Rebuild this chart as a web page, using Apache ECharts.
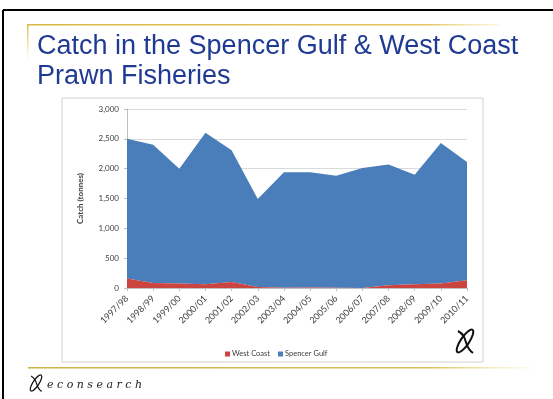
<!DOCTYPE html>
<html>
<head>
<meta charset="utf-8">
<script src="https://cdn.jsdelivr.net/npm/echarts@6/dist/echarts.min.js"></script>
<style>
html,body{margin:0;padding:0;background:#fff;}
#c{width:553px;height:399px;}
</style>
</head>
<body>
<div id="c"></div>
<script>
var categories = ['1997/98','1998/99','1999/00','2000/01','2001/02','2002/03','2003/04','2004/05','2005/06','2006/07','2007/08','2008/09','2009/10','2010/11'];
var westCoast = [158, 84, 74, 62, 100, 15, 5, 8, 4, 2, 45, 62, 74, 130];
var spencerGulf = [2342, 2316, 1926, 2538, 2210, 1475, 1935, 1930, 1876, 2008, 2025, 1838, 2356, 1980];
var yTicks = [0, 500, 1000, 1500, 2000, 2500, 3000];

var chart = echarts.init(document.getElementById('c'), null, {renderer: 'canvas'});
var fontChart = 'Lato, "Open Sans", sans-serif';

function logoShape(cx, cy, s, color, lw) {
  return {
    type: 'group', x: cx, y: cy, scaleX: s, scaleY: s, z: 10,
    children: [
      {type: 'ellipse', rotation: 0.98, shape: {cx: 0, cy: 0, rx: 13.5, ry: 4.2},
       style: {fill: 'none', stroke: color, lineWidth: lw}},
      {type: 'bezierCurve', shape: {x1: -7, y1: -10, x2: 8, y2: 12, cpx1: 4, cpy1: -4, cpx2: -2, cpy2: 6},
       style: {fill: 'none', stroke: color, lineWidth: lw}}
    ]
  };
}

var option = {
  backgroundColor: '#ffffff',
  animation: false,
  color: ['#CB4440', '#4A7EBB'],
  grid: {left: 127, right: 86, top: 109, bottom: 111, containLabel: false},
  legend: {
    data: ['West Coast', 'Spencer Gulf'],
    left: 220, top: 345,
    icon: 'rect', itemWidth: 5, itemHeight: 5, itemGap: 8,
    textStyle: {fontSize: 7.5, color: '#404040', fontFamily: fontChart, padding: [0,0,0,-3]}
  },
  xAxis: {
    type: 'category', data: categories, boundaryGap: false,
    axisLine: {show: true, lineStyle: {color: '#BFBFBF'}},
    axisTick: {show: true, alignWithLabel: true, length: 3, lineStyle: {color: '#BFBFBF'}},
    axisLabel: {rotate: 45, fontSize: 9, color: '#404040', fontFamily: fontChart, margin: 9, interval: 0}
  },
  yAxis: {
    type: 'value', min: yTicks[0], max: yTicks[yTicks.length-1], interval: yTicks[1]-yTicks[0],
    name: 'Catch (tonnes)', nameLocation: 'middle', nameGap: 43,
    nameTextStyle: {fontSize: 8, fontWeight: 'bold', color: '#404040', fontFamily: fontChart},
    axisLine: {show: true, lineStyle: {color: '#BFBFBF'}},
    axisTick: {show: true, length: 3, lineStyle: {color: '#BFBFBF'}},
    splitLine: {show: true, lineStyle: {color: '#D9D9D9', width: 1}},
    axisLabel: {fontSize: 8, color: '#404040', fontFamily: fontChart, margin: 8,
      formatter: function(v){ return v.toLocaleString('en-US'); }}
  },
  series: [
    {name: 'West Coast', type: 'line', stack: 'total', data: westCoast, symbol: 'none',
     lineStyle: {width: 0}, areaStyle: {opacity: 1, color: '#CB4440'}, z: 3},
    {name: 'Spencer Gulf', type: 'line', stack: 'total', data: spencerGulf, symbol: 'none',
     lineStyle: {width: 0}, areaStyle: {opacity: 1, color: '#4A7EBB'}, z: 2}
  ],
  graphic: [
    {type: 'line', shape: {x1: 3, y1: 10, x2: 553, y2: 10}, style: {stroke: '#000', lineWidth: 2}, z: 5},
    {type: 'line', shape: {x1: 3, y1: 10, x2: 3, y2: 399}, style: {stroke: '#000', lineWidth: 2}, z: 5},
    {type: 'rect', shape: {x: 27, y: 24, width: 472, height: 1.5}, z: 5,
     style: {fill: {type: 'linear', x: 0, y: 0, x2: 1, y2: 0, colorStops: [
       {offset: 0, color: '#D9B845'}, {offset: 0.85, color: '#E3C560'}, {offset: 1, color: 'rgba(240,215,120,0.2)'}]}}},
    {type: 'rect', shape: {x: 27, y: 24, width: 1.5, height: 40}, z: 5,
     style: {fill: {type: 'linear', x: 0, y: 0, x2: 0, y2: 1, colorStops: [
       {offset: 0, color: '#D9B845'}, {offset: 1, color: 'rgba(240,215,120,0)'}]}}},
    {type: 'text', x: 37, y: 47, z: 6, style: {text: 'Catch in the Spencer Gulf & West Coast',
      font: '27px "Liberation Sans", Arial, sans-serif', fill: '#1F3A93', verticalAlign: 'middle'}},
    {type: 'text', x: 37, y: 77, z: 6, style: {text: 'Prawn Fisheries',
      font: '27px "Liberation Sans", Arial, sans-serif', fill: '#1F3A93', verticalAlign: 'middle'}},
    {type: 'rect', shape: {x: 62, y: 98, width: 421, height: 264}, z: -1,
     style: {fill: '#fff', stroke: '#D0D0D0', lineWidth: 1}},
    {type: 'rect', shape: {x: 28, y: 367, width: 505, height: 1.5}, z: 5,
     style: {fill: {type: 'linear', x: 0, y: 0, x2: 1, y2: 0, colorStops: [
       {offset: 0, color: '#C8B545'}, {offset: 0.8, color: '#D6C35A'}, {offset: 1, color: 'rgba(240,225,140,0.1)'}]}}},
    logoShape(465, 341, 1, '#111', 2),
    logoShape(36, 383, 0.7, '#111', 1.8),
    {type: 'text', x: 47, y: 385, z: 6, style: {text: 'e c o n s e a r c h',
      font: 'italic 11px "DejaVu Serif", serif', fill: '#222', verticalAlign: 'middle'}}
  ]
};
chart.setOption(option);
</script>
</body>
</html>
